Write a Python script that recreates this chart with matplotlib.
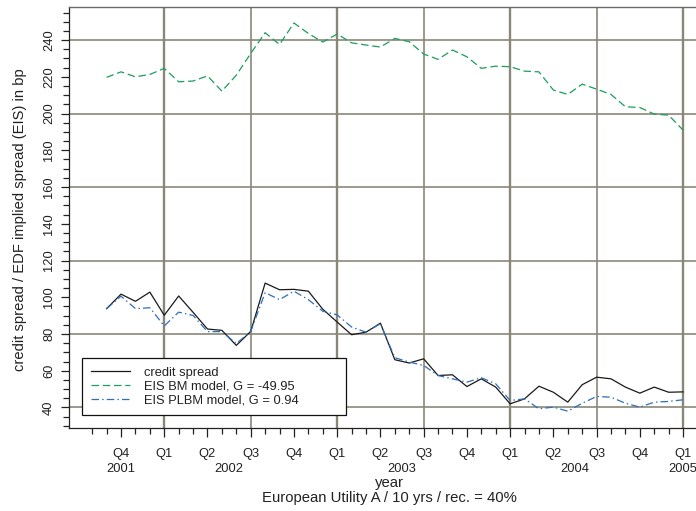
import matplotlib
matplotlib.use('Agg')
import matplotlib.pyplot as plt
from matplotlib.ticker import FixedLocator, MultipleLocator

plt.rcParams['font.family'] = ['Liberation Sans', 'DejaVu Sans']

# monthly observations, Sep 2001 (index 0) to Jan 2005 (index 40)
months = list(range(41))
credit_spread = [93.8, 101.7, 97.8, 102.8, 90.2, 100.7, 91.8, 82.7, 82.0, 73.8,
                 81.4, 107.7, 104.1, 104.3, 103.3, 93.5, 86.5, 79.6, 81.0, 85.9,
                 66.0, 64.2, 66.5, 57.4, 57.8, 51.4, 55.6, 51.1, 42.0, 44.7,
                 51.6, 48.3, 42.9, 52.4, 56.5, 55.6, 51.1, 47.8, 51.1, 48.3, 48.5]
eis_bm = [219.7, 222.7, 220.0, 221.3, 224.6, 217.3, 217.7, 220.5, 212.2, 220.9,
          232.7, 244.0, 237.6, 249.3, 243.6, 238.9, 243.3, 238.5, 237.3, 236.2,
          240.9, 239.1, 232.4, 229.5, 234.6, 230.9, 224.6, 225.8, 225.5, 223.1,
          222.7, 212.8, 210.4, 216.0, 213.3, 210.4, 203.7, 203.3, 199.7, 199.1, 191.0]
eis_plbm = [93.8, 100.6, 93.8, 94.3, 84.4, 91.9, 90.1, 81.3, 81.3, 74.8,
            81.4, 102.5, 98.7, 103.3, 98.7, 92.4, 90.4, 83.8, 81.0, 85.6,
            67.1, 64.7, 62.9, 57.4, 55.6, 53.8, 56.2, 52.9, 43.8, 44.7,
            39.3, 40.2, 38.0, 42.3, 46.0, 45.6, 42.3, 40.2, 42.9, 43.3, 44.2]

# quarter starts (month index) and their labels
quarter_pos = [1, 4, 7, 10, 13, 16, 19, 22, 25, 28, 31, 34, 37, 40]
quarter_lbl = ['Q4', 'Q1', 'Q2', 'Q3', 'Q4', 'Q1', 'Q2', 'Q3', 'Q4',
               'Q1', 'Q2', 'Q3', 'Q4', 'Q1']
years = ['2001', '2002', '2003', '2004', '2005']
year_pos = [1, 8.5, 20.5, 32.5, 40]

txt = '#222222'
grid_c = '#8a8778'

fig = plt.figure(figsize=(6.96, 5.11), dpi=100)
ax = fig.add_axes([69 / 696, 1 - 427.7 / 511, 640 / 696, 420.7 / 511])

# grid: horizontal every 40 bp, vertical every half year
for v in [40, 80, 120, 160, 200, 240]:
    ax.axhline(v, color=grid_c, lw=1.2, zorder=0)
for q in [4, 10, 16, 22, 28, 34, 40]:
    lw = 1.7 if q in (4, 16, 28, 40) else 1.2
    ax.axvline(q, color=grid_c, lw=lw, zorder=0)

ax.plot(months, credit_spread, color='#1a1a1a', lw=0.9, label='credit spread')
ax.plot(months, eis_bm, color='#17a058', lw=0.9, dashes=(6, 3),
        label='EIS BM model, G = -49.95')
ax.plot(months, eis_plbm, color='#2e6fba', lw=0.9, dashes=(6, 2.5, 1.2, 2.5),
        label='EIS PLBM model, G = 0.94')

ax.set_xlim(-2.61, 41.8)
ax.set_ylim(29, 258)

ax.xaxis.set_major_locator(FixedLocator(quarter_pos))
ax.set_xticklabels(quarter_lbl)
ax.xaxis.set_minor_locator(FixedLocator(list(range(-1, 42))))
ax.yaxis.set_major_locator(FixedLocator(list(range(40, 241, 20))))
ax.yaxis.set_minor_locator(MultipleLocator(5))

ax.tick_params(axis='both', which='both', direction='out', color='#222222',
               width=0.9, labelsize=9.3, labelcolor=txt)
ax.tick_params(axis='x', which='major', length=6.5, pad=8)
ax.tick_params(axis='x', which='minor', length=4.5)
ax.tick_params(axis='y', which='major', length=5.5, pad=4.5)
ax.tick_params(axis='y', which='minor', length=4)
for lab in ax.get_yticklabels():
    lab.set_rotation(90)
    lab.set_va('center')

for sp in ['left', 'bottom']:
    ax.spines[sp].set_color('#222222')
    ax.spines[sp].set_linewidth(0.9)
ax.spines['top'].set_color('#6b6b6b')
ax.spines['top'].set_linewidth(1.0)
ax.spines['right'].set_visible(False)

for y, p in zip(years, year_pos):
    ax.text(p, -0.0975, y, transform=ax.get_xaxis_transform(), ha='center',
            va='center', fontsize=9.3, color=txt)

fig.text(389 / 696, 1 - 483 / 511, 'year', ha='center', va='center',
         fontsize=10.7, color=txt)
fig.text(389 / 696, 1 - 497.5 / 511, 'European Utility A / 10 yrs / rec. = 40%',
         ha='center', va='center', fontsize=10.7, color=txt)
fig.text(20 / 696, 1 - 220 / 511,
         'credit spread / EDF implied spread (EIS) in bp',
         rotation=90, ha='center', va='center', fontsize=10.6, color=txt)

leg = ax.legend(loc='lower left', bbox_to_anchor=(0.0203, 0.030, 0.4125, 0.135),
                mode='expand', fontsize=9.3, frameon=True, fancybox=False,
                framealpha=1, edgecolor='#111111', handlelength=3.0,
                handletextpad=1.1, labelspacing=0.12, borderpad=0.7,
                borderaxespad=0)
leg.get_frame().set_linewidth(0.9)
for t in leg.get_texts():
    t.set_color(txt)

fig.savefig('out.png', dpi=100)
